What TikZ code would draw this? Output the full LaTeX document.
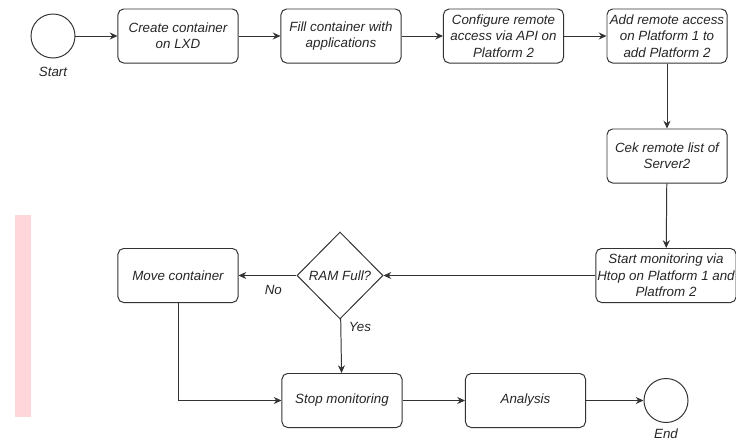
\documentclass[tikz,border=0pt]{standalone}
\usepackage{fontspec}
\setmainfont{Liberation Sans}
\usetikzlibrary{shapes.geometric,arrows.meta}
\definecolor{linegray}{HTML}{333333}
\definecolor{stripred}{HTML}{FFD6DA}
\tikzset{
  proc/.style={draw=linegray, line width=0.7pt, rounded corners=4pt, align=center,
    minimum width=3cm, minimum height=1.35cm, inner sep=1pt,
    font=\fontsize{9.5}{11.6}\selectfont\itshape, text=black!85},
  decide/.style={draw=linegray, line width=0.7pt, diamond, aspect=1, inner sep=0pt,
    minimum width=2.15cm, minimum height=2.175cm,
    font=\fontsize{9.5}{11.6}\selectfont\itshape, text=black!85},
  event/.style={draw=linegray, line width=0.7pt, circle, minimum size=1.1cm, inner sep=0pt},
  tag/.style={font=\fontsize{9.5}{11.6}\selectfont\itshape, text=black!85},
  flow/.style={draw=linegray, line width=0.7pt, -{Stealth[length=5.5pt,width=5pt]}}
}
\begin{document}
\begin{tikzpicture}[x=0.025cm, y=-0.025cm]
		%%%%% FRAME %%%%%
		\useasboundingbox (0,0) rectangle (736,441);
		\fill[stripred] (15,215) rectangle (31,417);
		
		%%%%% TOP ROW %%%%%
		\node[event] (start) at (53,36) {};
		\node[tag] (startlbl) at (53,72) {Start};
		\node[proc] (create) at (178,36) {Create container\\on LXD};
		\node[proc] (fill) at (341,36) {Fill container with\\applications};
		\node[proc] (config) at (503.5,36) {Configure remote\\access via API on\\Platform 2};
		\node[proc] (addremote) at (667,36) {Add remote access\\on Platform 1 to\\add Platform 2};
		
		%%%%% RIGHT COLUMN %%%%%
		\node[proc] (cek) at (667,156) {Cek remote list of\\Server2};
		\node[proc, minimum width=3.5cm] (monitor) at (666,275.5) {Start monitoring via\\Htop on Platform 1 and\\Platfrom 2};
		
		%%%%% DECISION ROW %%%%%
		\node[decide] (ram) at (340,275.5) {RAM Full?};
		\node[proc] (move) at (178,275.5) {Move container};
		
		%%%%% BOTTOM ROW %%%%%
		\node[proc] (stop) at (342,400.5) {Stop monitoring};
		\node[proc] (analysis) at (525.5,400.5) {Analysis};
		\node[event] (end) at (666,400.5) {};
		\node[tag] (endlbl) at (666,434) {End};
		
		%%%%% CONNECTORS %%%%%
		\draw[flow] (start) -- (create);
		\draw[flow] (create) -- (fill);
		\draw[flow] (fill) -- (config);
		\draw[flow] (config) -- (addremote);
		\draw[flow] (addremote) -- (cek);
		\draw[flow] (cek) -- (monitor);
		\draw[flow] (monitor) -- (ram);
		\draw[flow] (ram) -- node[tag, pos=0.4, below=3pt] (nolbl) {No} (move);
		\draw[flow] (ram) -- node[tag, pos=0.15, right=2pt] (yeslbl) {Yes} (stop);
		\draw[flow] (move) |- (stop);
		\draw[flow] (stop) -- (analysis);
		\draw[flow] (analysis) -- (end);
	\end{tikzpicture}
\end{document}
